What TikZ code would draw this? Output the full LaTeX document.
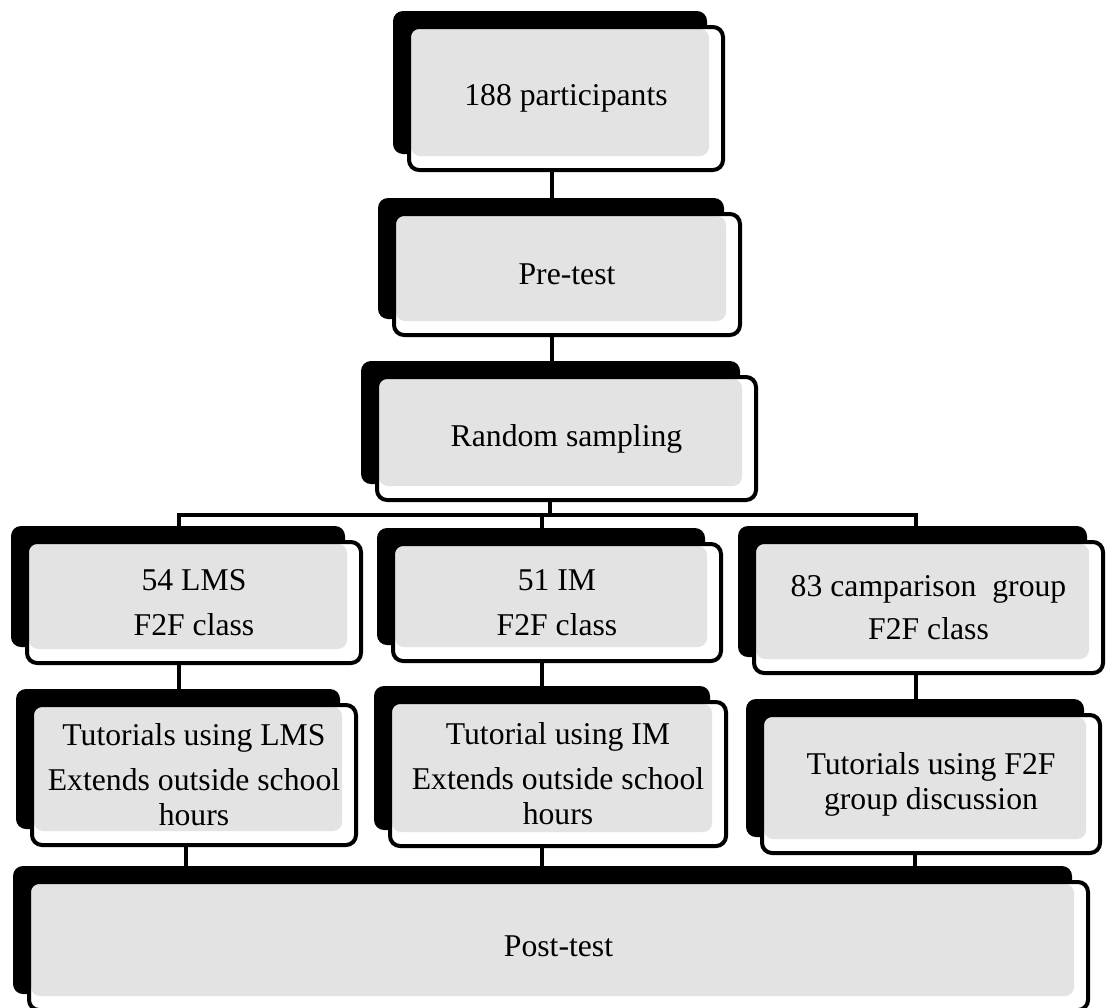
\documentclass[tikz,border=0pt]{standalone}
\usepackage{fontspec}
\setmainfont{Liberation Serif}
\usetikzlibrary{shadows,backgrounds}
\definecolor{boxgray}{RGB}{227,227,227}
\tikzset{
  flowbox/.style={draw=black, line width=4pt, fill=white, rounded corners=10pt,
    align=center, inner sep=0pt, text=black,
    font=\fontsize{31.7}{35}\selectfont,
    drop shadow={shadow xshift=-16pt, shadow yshift=16pt, fill=black, opacity=1},
    path picture={\fill[boxgray, rounded corners=9pt]
      ([xshift=2pt,yshift=-2pt]path picture bounding box.north west) rectangle
      ([xshift=-14pt,yshift=14pt]path picture bounding box.south east);}},
  link/.style={line width=4pt, draw=black}
}
\begin{document}
\begin{tikzpicture}[x=1pt,y=-1pt]
\useasboundingbox (0,0) rectangle (1107,1007);
\node[flowbox, minimum width=314pt, minimum height=143pt] (b1) at (566,98.5) {188 participants};
\node[flowbox, minimum width=346pt, minimum height=121pt] (b2) at (567,274.5) {Pre-test};
\node[flowbox, minimum width=379pt, minimum height=123pt] (b3) at (566.5,438.5) {Random sampling};
\node[flowbox, minimum width=334pt, minimum height=121pt] (l3) at (194,602.5) {54 LMS\\[10pt]F2F class};
\node[flowbox, minimum width=328pt, minimum height=117pt] (i3) at (557,602.5) {51 IM\\[10pt]F2F class};
\node[flowbox, minimum width=349pt, minimum height=131pt] (c3) at (928.5,607.5) {83 camparison~ group\\[8pt]F2F class};
\node[flowbox, minimum width=324pt, minimum height=140pt] (l4) at (194,775) {Tutorials using LMS\\[10pt]Extends outside school\\hours};
\node[flowbox, minimum width=336pt, minimum height=144pt] (i4) at (558,774) {Tutorial using IM\\[10pt]Extends outside school\\hours};
\node[flowbox, minimum width=338pt, minimum height=138pt] (c4) at (931,784) {Tutorials using F2F\\group discussion};
\node[flowbox, minimum width=1059pt, minimum height=128pt] (post) at (558.5,946) {Post-test};
\begin{scope}[on background layer]
  \draw[link] ([xshift=-14pt]b1.south) -- ([xshift=-14pt]b1.south |- b2.north);
  \draw[link] ([xshift=-15pt]b2.south) -- ([xshift=-15pt]b2.south |- b3.north);
  \coordinate (bar) at ([xshift=-16.5pt,yshift=-13pt]b3.south);
  \draw[link] ([xshift=-16.5pt]b3.south) -- (bar);
  \draw[link] ([xshift=-15pt]l3.north) |- (bar) -| ([xshift=-12.5pt]c3.north);
  \draw[link] (bar) -| ([xshift=-15pt]i3.north);
  \draw[link] ([xshift=-15pt]l3.south) -- ([xshift=-15pt]l3.south |- l4.north);
  \draw[link] ([xshift=-15pt]i3.south) -- ([xshift=-15pt]i3.south |- i4.north);
  \draw[link] ([xshift=-12.5pt]c3.south) -- ([xshift=-12.5pt]c3.south |- c4.north);
  \draw[link] ([xshift=-8pt]l4.south) -- ([xshift=-8pt]l4.south |- post.north);
  \draw[link] ([xshift=-16pt]i4.south) -- ([xshift=-16pt]i4.south |- post.north);
  \draw[link] ([xshift=-16pt]c4.south) -- ([xshift=-16pt]c4.south |- post.north);
\end{scope}
\end{tikzpicture}
\end{document}
